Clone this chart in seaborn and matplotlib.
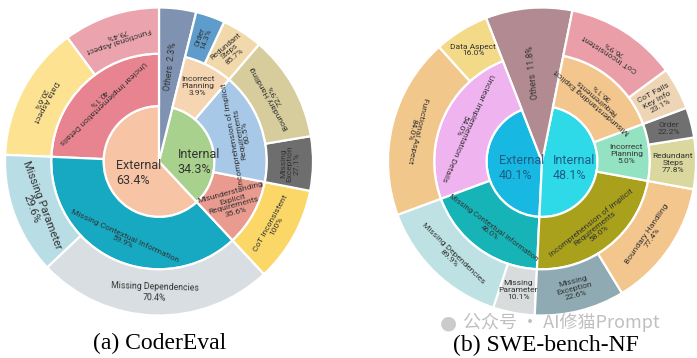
import numpy as np
import matplotlib
matplotlib.use("Agg")
import matplotlib.pyplot as plt
import seaborn as sns

# ---------------------------------------------------------------
# Data
# arcs = how much of the circle each piece takes in the drawing
# (degrees, the figure is not drawn to the printed percentages)
# ---------------------------------------------------------------
# (a) CoderEval
a_inner_labels = ["External", "Internal", "Others"]
a_inner_pct = [63.4, 34.3, 2.3]
a_inner_arc = [223, 123, 14]

a_mid_labels = ["Unclear Implementation Details", "Missing Contextual Information",
                "Misunderstanding\nExplicit\nRequirements",
                "Incomprehension of Implicit\nRequirements", "Incorrect\nPlanning", "Others"]
a_mid_pct = [40.1, 59.9, 35.6, 60.5, 3.9, 2.3]
a_mid_arc = [87.5, 135.5, 36, 60.5, 26.5, 14]

a_out_labels = ["Functional Aspect", "Data Aspect", "Missing Parameter", "Missing Dependencies",
                "CoT Inconsistent", "Missing\nException", "Boundary Handling",
                "Redundant\nSteps", "Order", "Others"]
a_out_pct = [79.4, 20.6, 29.6, 70.4, 100, 27.1, 72.9, 85.7, 14.3, 2.3]
a_out_arc = [36.5, 51, 46, 89.5, 36, 20.5, 40, 15.5, 11, 14]

# (b) SWE-bench-NF
b_inner_labels = ["External", "Internal", "Others"]
b_inner_pct = [40.1, 48.1, 11.8]
b_inner_arc = [156, 171.3, 32.7]

b_mid_labels = ["Unclear Implementation Details", "Missing Contextual Information",
                "Incomprehension of Implicit\nRequirements", "Incorrect\nPlanning",
                "Misunderstanding Explicit\nRequirements", "Others"]
b_mid_pct = [54.0, 46.0, 58.0, 5.0, 36.1, 11.8]
b_mid_arc = [89, 67, 82.3, 30.8, 58.2, 32.7]

b_out_labels = ["Data Aspect", "Functional Aspect", "Missing Dependencies", "Missing\nParameter",
                "Missing\nException", "Boundary Handling", "Redundant\nSteps", "Order",
                "CoT Fails\nKey Info", "CoT Inconsistent", "Others"]
b_out_pct = [16.0, 84.0, 89.9, 10.1, 22.6, 77.4, 77.8, 22.2, 23.1, 76.9, 11.8]
b_out_arc = [20.7, 68.3, 51.3, 15.7, 34, 48.3, 19.4, 11.4, 16, 42.2, 32.7]

# ---------------------------------------------------------------
# styles
# ---------------------------------------------------------------
a_inner_colors = ["#F8C4A6", "#A9D18E", "#8092B2"]
a_mid_colors = ["#E8848F", "#17A9C1", "#E99B8F", "#A8C8E8", "#F5D5B2", "#8092B2"]
a_out_colors = ["#EBA4AE", "#FCE291", "#B8DDE5", "#D8DEE1", "#FAD767", "#6E6E6E",
                "#D6CC9C", "#F2D9AB", "#5E9CCB", "#8092B2"]
b_inner_colors = ["#17B9E3", "#2FDAE8", "#B18A92"]
b_mid_colors = ["#EFB3EF", "#17B4B7", "#A9A11C", "#93E2C2", "#F3C68D", "#B18A92"]
b_out_colors = ["#F3DA89", "#F2C78C", "#BEE2E3", "#D8DCDC", "#8FAAB2", "#F3C68D",
                "#DAD89E", "#707070", "#EED5B5", "#EA9FA8", "#B18A92"]

# label rotation: 'tan' = along the ring, 'rad' = along the radius, number = fixed
a_mid_rot = ['tan', 'tan', 15, 100, 0, None]
a_out_rot = ['tan', 'tan', 'tan', 'tan', 'tan', 'tan', 'tan', 40, 'rad', None]
b_mid_rot = ['tan', 'tan', 'tan', 0, 'tan', None]
b_out_rot = [0, 'tan', 'tan', 0, 'tan', 'tan', 0, 0, 'rad', 'tan', None]

a_mid_size = [6, 6, 6, 6, 6, 6]
b_mid_size = [6, 5.6, 6, 6, 6, 6]
a_out_size = [6, 6, 8, 6.3, 6, 6, 6, 5.8, 5.8, 6]
b_out_size = [6] * 11

R_IN, R_MID = 0.36, 0.70
TXT = "#333333"

sns.set_theme(style="white")
plt.rcParams['font.family'] = ['Roboto', 'DejaVu Sans']


def mid_angles(arcs, start):
    arcs = np.asarray(arcs, float)
    edges = start + np.concatenate([[0], np.cumsum(arcs)]) / arcs.sum() * 360
    return (edges[:-1] + edges[1:]) / 2


def put_label(ax, text, theta, r, rot, size, color=TXT):
    if rot == 'tan':
        rot = theta + 90
    elif rot == 'rad':
        rot = theta
    t = np.radians(theta)
    ax.text(r * np.cos(t), r * np.sin(t), text, rotation=rot % 360,
            rotation_mode='anchor', ha='center', va='center',
            fontsize=size, color=color, linespacing=1.15)


def sunburst(ax, start, inner, mid, out, others_pos, center_pos, center_color):
    (in_lab, in_pct, in_arc, in_col) = inner
    (mid_lab, mid_pct, mid_arc, mid_col, mid_rot, mid_size) = mid
    (out_lab, out_pct, out_arc, out_col, out_rot, out_size) = out
    wp = dict(edgecolor='white', linewidth=1.6)

    w_in, _ = ax.pie(in_arc, radius=R_IN, startangle=start, colors=in_col, wedgeprops=wp)
    w_in[-1].set_radius(1.0)      # "Others" runs through all rings
    w_mid, _ = ax.pie(mid_arc, radius=R_MID, startangle=start, colors=mid_col,
                      wedgeprops=dict(width=R_MID - R_IN, **wp))
    w_out, _ = ax.pie(out_arc, radius=1.0, startangle=start, colors=out_col,
                      wedgeprops=dict(width=1.0 - R_MID, **wp))
    w_mid[-1].set_visible(False)
    w_out[-1].set_visible(False)

    # centre labels
    for lab, pct, (x, y) in zip(in_lab[:2], in_pct[:2], center_pos):
        ax.text(x, y, f"{lab}\n{pct:.1f}%", ha='left', va='center', fontsize=9,
                color=center_color, linespacing=1.2)
    th, r = others_pos
    put_label(ax, f"{in_lab[2]}  {in_pct[2]:.1f}%", th, r, th, 6.3)

    for lab, pct, th, rot, s in zip(mid_lab[:-1], mid_pct[:-1], mid_angles(mid_arc, start)[:-1],
                                    mid_rot, mid_size):
        put_label(ax, f"{lab}\n{pct:.1f}%", th, (R_IN + R_MID) / 2 + 0.02, rot, s)

    for lab, pct, th, rot, s in zip(out_lab[:-1], out_pct[:-1], mid_angles(out_arc, start)[:-1],
                                    out_rot, out_size):
        txt = f"{pct:g}%" if pct == 100 else f"{pct:.1f}%"
        put_label(ax, f"{lab}\n{txt}", th, (R_MID + 1) / 2, rot, s)

    ax.set_xlim(-1, 1)
    ax.set_ylim(-1, 1)
    ax.set_aspect('auto')
    ax.axis('off')


W, H = 697, 358
fig = plt.figure(figsize=(W / 100, H / 100), dpi=100)
fig.patch.set_facecolor('white')

# chart boxes in pixels (centre +- radius)
ax_a = fig.add_axes([5 / W, 1 - 315.5 / H, 308 / W, 308 / H])
ax_b = fig.add_axes([388 / W, 1 - 315.5 / H, 308 / W, 308 / H])

sunburst(ax_a, 90,
         (a_inner_labels, a_inner_pct, a_inner_arc, a_inner_colors),
         (a_mid_labels, a_mid_pct, a_mid_arc, a_mid_colors, a_mid_rot, a_mid_size),
         (a_out_labels, a_out_pct, a_out_arc, a_out_colors, a_out_rot, a_out_size),
         others_pos=(83, 0.62), center_pos=[(-0.28, -0.075), (0.12, -0.005)],
         center_color="#333333")
sunburst(ax_b, 111.3,
         (b_inner_labels, b_inner_pct, b_inner_arc, b_inner_colors),
         (b_mid_labels, b_mid_pct, b_mid_arc, b_mid_colors, b_mid_rot, b_mid_size),
         (b_out_labels, b_out_pct, b_out_arc, b_out_colors, b_out_rot, b_out_size),
         others_pos=(96, 0.58), center_pos=[(-0.28, -0.04), (0.07, -0.04)],
         center_color="#1F5C85")

fig.text(160 / W, 1 - 343 / H, "(a) CoderEval", ha='center', va='center',
         family='Liberation Serif', fontsize=17, color='black')
fig.text(546 / W, 1 - 345 / H, "(b) SWE-bench-NF", ha='center', va='center',
         family='Liberation Serif', fontsize=17, color='black')
# watermark with a small chat-bubble icon
fig.text(448 / W, 1 - 323 / H, "\u25CF", ha='center', va='center', fontsize=14,
         color='#b5b5b5', alpha=0.7)
fig.text(463 / W, 1 - 322 / H, "公众号 · AI修猫Prompt", ha='left', va='center',
         family=['Noto Sans CJK SC', 'DejaVu Sans'], fontsize=13, color='#8c8c8c', alpha=0.55)

fig.savefig("out.png", dpi=100, facecolor='white')
